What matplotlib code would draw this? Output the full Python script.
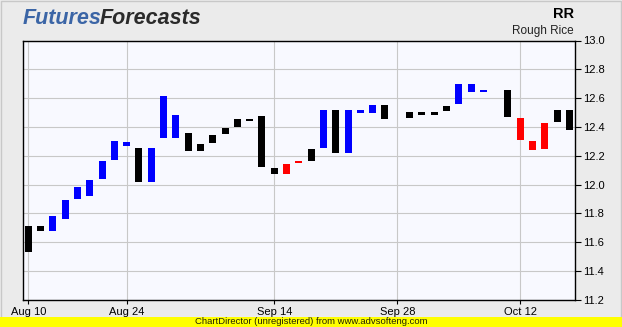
import numpy as np
import matplotlib
matplotlib.use("Agg")
import matplotlib.pyplot as plt
from matplotlib import font_manager
from matplotlib.patches import Rectangle

# ---- data ----
bar_open = [11.71, 11.71, 11.68, 11.76, 11.90, 11.92, 12.04, 12.17, 12.265, 12.255,
            12.02, 12.325, 12.325, 12.36, 12.28, 12.345, 12.394, 12.456, 12.456, 12.477,
            12.116, 12.144, 12.16, 12.248, 12.255, 12.519, 12.22, 12.495, 12.495, 12.553,
            np.nan, 12.505, 12.505, 12.505, 12.546, 12.556, 12.64, 12.64, np.nan, 12.657,
            12.463, 12.306, 12.43, 12.519, 12.519]
bar_close = [11.535, 11.68, 11.78, 11.89, 11.98, 12.03, 12.165, 12.30, 12.295, 12.02,
             12.255, 12.615, 12.485, 12.235, 12.235, 12.29, 12.352, 12.40, 12.442, 12.123,
             12.074, 12.074, 12.15, 12.165, 12.52, 12.22, 12.52, 12.52, 12.553, 12.456,
             np.nan, 12.465, 12.486, 12.486, 12.514, 12.70, 12.70, 12.657, np.nan, 12.472,
             12.313, 12.243, 12.245, 12.435, 12.38]
bar_color = ["k", "k", "b", "b", "b", "b", "b", "b", "b", "k",
             "b", "b", "b", "k", "k", "k", "k", "k", "k", "k",
             "k", "r", "r", "k", "b", "k", "b", "b", "b", "k",
             "-", "k", "k", "k", "k", "b", "b", "b", "-", "k",
             "r", "r", "r", "k", "k"]
color_map = {"k": "#000000", "b": "#0000ff", "r": "#ff0000", "-": "#000000"}
tick_index = [0, 8, 20, 30, 40]
tick_labels = ["Aug 10", "Aug 24", "Sep 14", "Sep 28", "Oct 12"]
y_ticks = [11.2, 11.4, 11.6, 11.8, 12.0, 12.2, 12.4, 12.6, 12.8, 13.0]
title_code = "RR"
title_name = "Rough Rice"

# ---- fonts ----
avail = {f.name for f in font_manager.fontManager.ttflist}
base_font = "Liberation Sans" if "Liberation Sans" in avail else "DejaVu Sans"
logo_font = "Liberation Sans Narrow" if "Liberation Sans Narrow" in avail else base_font
plt.rcParams["font.family"] = [base_font, "DejaVu Sans"]

W, H = 622, 327
fig = plt.figure(figsize=(W / 100, H / 100), dpi=100)
fig.patch.set_facecolor("#ebebeb")
fig.patches.append(Rectangle((0.5 / W, 0.5 / H), 1 - 1.5 / W, 1 - 1.5 / H, transform=fig.transFigure,
                             fill=False, edgecolor="#c8c8c8", lw=1.0))

left, right, top, bottom = 22.6, 575.0, 40.5, 299.9
ax = fig.add_axes([left / W, 1 - bottom / H, (right - left) / W, (bottom - top) / H])
ax.set_facecolor("#f8f9ff")

o = np.array(bar_open, dtype=float)
c = np.array(bar_close, dtype=float)
x = np.arange(len(o))
lo = np.minimum(o, c)
hgt = np.maximum(np.abs(c - o), 0.012)
cols = np.array([color_map[k] for k in bar_color])
mask = ~np.isnan(o)
ax.bar(x[mask], hgt[mask], bottom=lo[mask], width=0.57, color=cols[mask], lw=0, zorder=3)

ax.set_xlim(-0.46, 44.45)
ax.set_ylim(11.2, 13.0)
ax.set_yticks(y_ticks)
ax.set_yticklabels([f"{v:.1f}" for v in y_ticks])
ax.set_xticks(tick_index)
ax.set_xticklabels(tick_labels)
ax.yaxis.tick_right()
ax.tick_params(axis="y", direction="out", length=4, width=0.8, pad=2, labelsize=8, colors="#000000")
ax.tick_params(axis="x", direction="out", length=3, width=0.8, pad=2, labelsize=8, colors="#000000")
ax.grid(True, color="#c8c8c8", lw=0.8, zorder=0)
for s in ax.spines.values():
    s.set_color("#000000")
    s.set_linewidth(1.0)

# header
logo_kw = dict(fontfamily=logo_font, fontweight="bold", fontstyle="italic", fontsize=15.5, va="center", ha="left")
t1 = fig.text(23 / W, 1 - 18 / H, "Futures", color="#3b65a6", **logo_kw)
fig.canvas.draw()
r = t1.get_window_extent(renderer=fig.canvas.get_renderer())
fig.text((r.x1 - 2) / W, 1 - 18 / H, "Forecasts", color="#2b2b2b", **logo_kw)

fig.text(574 / W, 1 - 14 / H, title_code, fontweight="bold", fontsize=10.5, ha="right", va="center", color="#000000")
fig.text(574 / W, 1 - 31 / H, title_name, fontsize=8.5, ha="right", va="center", color="#222222")

# footer
fig.patches.append(Rectangle((0, 0), 1, 10 / H, transform=fig.transFigure, facecolor="#ffff00", edgecolor="none"))
fig.text(0.5, 5 / H, "ChartDirector (unregistered) from www.advsofteng.com", fontsize=6.8,
         ha="center", va="center", color="#222200")

fig.savefig("out.png", dpi=100, facecolor=fig.get_facecolor())
